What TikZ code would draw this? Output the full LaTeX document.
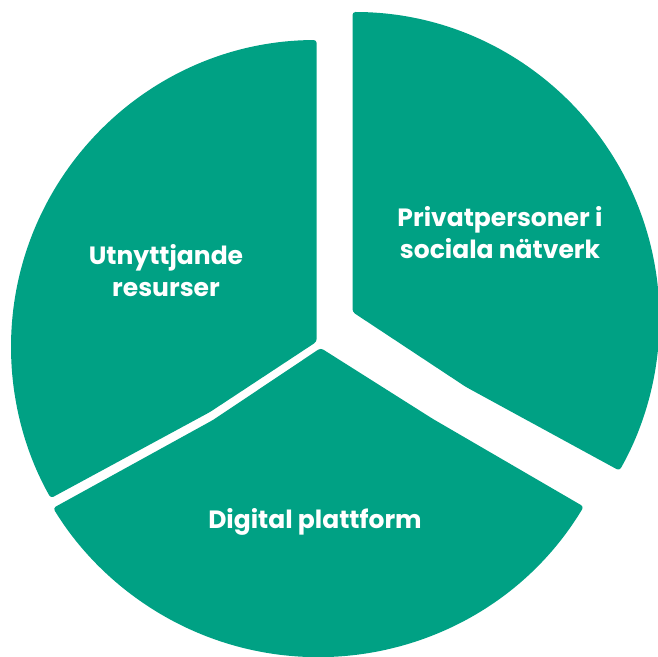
\documentclass[tikz,border=0pt]{standalone}
\usepackage{fontspec}
\setmainfont{Poppins}
\definecolor{pieteal}{RGB}{0,161,132}
\begin{document}
\begin{tikzpicture}[x=1pt,y=1pt,
  sector/.style={fill=pieteal, rounded corners=3pt},
  lbl/.style={text=white, align=center, font=\bfseries\fontsize{25}{32}\selectfont, inner sep=0pt}]
\useasboundingbox (0,0) rectangle (657,657);
% left sector
\fill[sector] (316.7,315.3) -- ([shift={(318,310)}]90.25:307) arc[start angle=90.25, end angle=209.5, radius=307] -- (210,245) -- cycle;
% bottom sector
\fill[sector] (320.7,309) -- (433,238) -- ([shift={(318,310)}]-31:310) arc[start angle=-31, end angle=-148.7, radius=310] -- (213,237) -- cycle;
% exploded sector
\fill[sector] (352.5,345) -- (352.5,645) arc[start angle=90, end angle=-29.6, radius=307] -- (466,270) -- cycle;
\node[lbl] (p) at (500,424) {Privatpersoner i\\sociala nätverk};
\node[lbl] (u) at (166,386) {Utnyttjande\\resurser};
\node[lbl] (d) at (315,135) {Digital plattform};
\end{tikzpicture}
\end{document}
